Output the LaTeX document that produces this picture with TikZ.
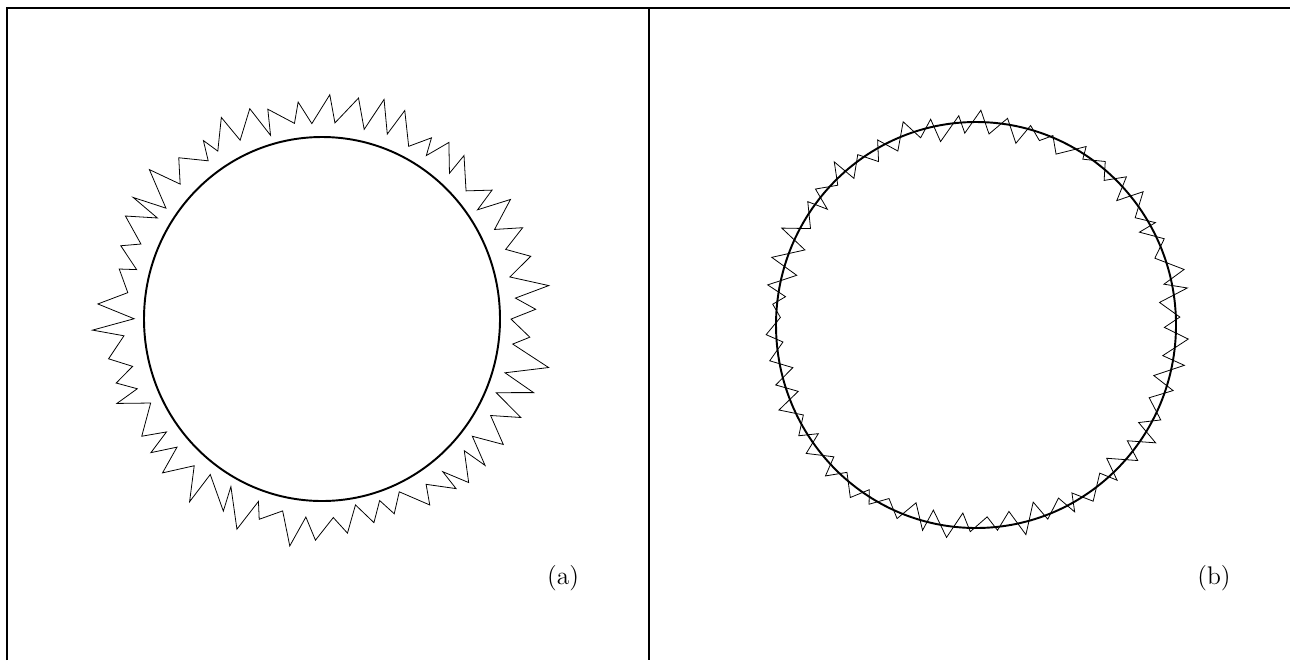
\documentclass[tikz,border=0pt]{standalone}
\usepackage{tikz}
\usetikzlibrary{positioning,calc}

\begin{document}
\begin{tikzpicture}[
      x=0.02cm, y=-0.02cm,
      frame/.style={line width=1.3pt, black},
      ring/.style={line width=1.1pt, black},
      jag/.style={line width=0.45pt, black, line join=miter},
      tag/.style={font=\fontsize{14.5}{17}\selectfont, inner sep=0pt}
  ]
      \useasboundingbox (0,0) rectangle (1290,660);

      % Rahmen
      \draw[frame] (7,660) -- (7,8) -- (1290,8);
      \draw[frame] (649,8) -- (649,660);

      % Feld (a)
      \coordinate (ca) at (322,319);
      \draw[ring] (ca) ellipse[x radius=178, y radius=182];
      \pgfmathsetseed{4711}
      \begin{scope}[shift={(ca)}]
          \draw[jag] plot[domain=0:356.4, samples=100]
              ({\x+2.6*rnd}:{187+mod(round(\x/3.6),2)*(14+24*rnd)+12*rnd}) -- cycle;
      \end{scope}
      \node[tag] (la) at (563,578) {(a)};

      % Feld (b)
      \coordinate (cb) at (976,325);
      \draw[ring] (cb) ellipse[x radius=200, y radius=203];
      \pgfmathsetseed{2024}
      \begin{scope}[shift={(cb)}]
          \draw[jag] plot[domain=0:356.4, samples=100]
              ({\x+2.4*rnd}:{201+(2*mod(round(\x/3.6),2)-1)*(3+14*rnd)}) -- cycle;
      \end{scope}
      \node[tag] (lb) at (1214,578) {(b)};

  \end{tikzpicture}
\end{document}
